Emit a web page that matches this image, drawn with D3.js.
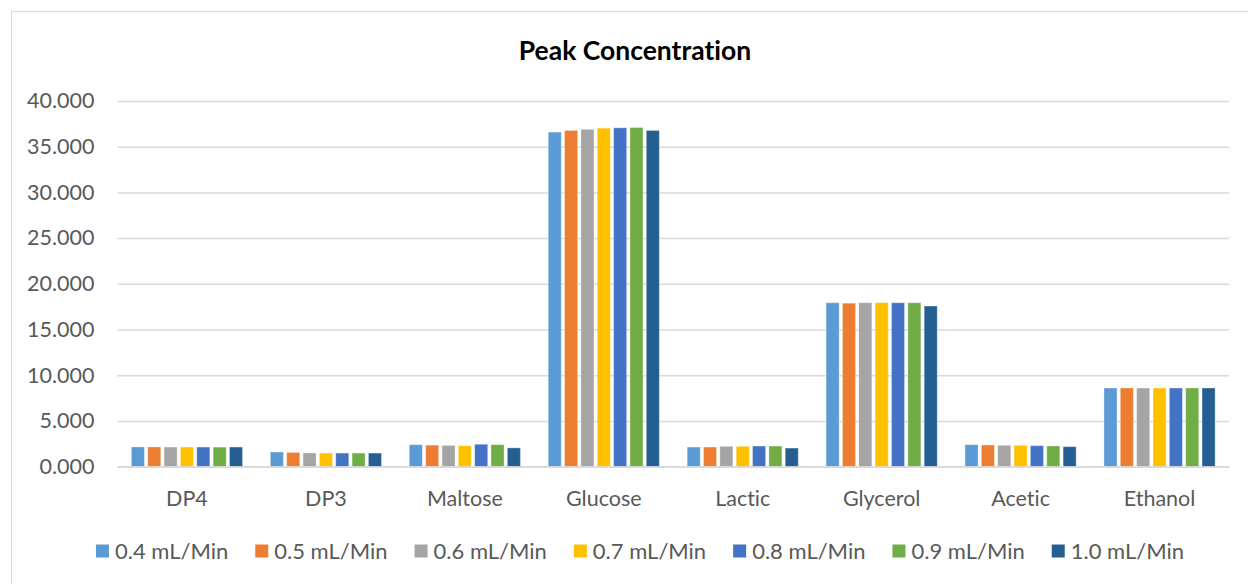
<!DOCTYPE html>
<html>
<head>
<meta charset="utf-8">
<script src="https://cdn.jsdelivr.net/npm/d3@7"></script>
<style>
  html, body { margin: 0; padding: 0; background: #fff; }
  svg { display: block; }
  text { font-family: Lato, "Liberation Sans", sans-serif; font-variant-ligatures: none; font-feature-settings: "liga" 0, "clig" 0; }
</style>
</head>
<body>
<svg id="chart" width="1248" height="584"></svg>
<script>
// Analytes on the x axis
const categories = ["DP4", "DP3", "Maltose", "Glucose", "Lactic", "Glycerol", "Acetic", "Ethanol"];

// Flow rates (one series each)
const seriesNames = ["0.4 mL/Min", "0.5 mL/Min", "0.6 mL/Min", "0.7 mL/Min", "0.8 mL/Min", "0.9 mL/Min", "1.0 mL/Min"];

// Peak concentration per analyte for each flow rate
const flow04 = [2.15, 1.60, 2.40, 36.60, 2.14, 17.93, 2.40, 8.60];
const flow05 = [2.15, 1.55, 2.35, 36.78, 2.14, 17.88, 2.36, 8.60];
const flow06 = [2.14, 1.50, 2.32, 36.90, 2.22, 17.93, 2.33, 8.60];
const flow07 = [2.14, 1.48, 2.28, 37.03, 2.22, 17.94, 2.33, 8.60];
const flow08 = [2.14, 1.48, 2.45, 37.07, 2.25, 17.93, 2.29, 8.60];
const flow09 = [2.13, 1.48, 2.40, 37.10, 2.25, 17.93, 2.26, 8.60];
const flow10 = [2.14, 1.48, 2.05, 36.78, 2.03, 17.57, 2.18, 8.60];
const seriesValues = [flow04, flow05, flow06, flow07, flow08, flow09, flow10];

// Y axis ticks
const yTicks = [0, 5, 10, 15, 20, 25, 30, 35, 40];

const colors = ["#5B9BD5", "#ED7D31", "#A5A5A5", "#FFC000", "#4472C4", "#70AD47", "#255E91"];

const svg = d3.select("#chart");
const plot = { left: 117.5, right: 1229, top: 101, bottom: 466.6 };

// Chart frame
svg.append("rect")
  .attr("x", 11.5).attr("y", 11.5)
  .attr("width", 1300).attr("height", 700)
  .attr("fill", "#fff").attr("stroke", "#d9d9d9").attr("stroke-width", 1);

// Title
svg.append("text")
  .attr("x", 635).attr("y", 60)
  .attr("text-anchor", "middle")
  .attr("font-weight", "bold")
  .attr("font-size", 26.5)
  .attr("fill", "#000")
  .text("Peak Concentration");

const x0 = d3.scaleBand().domain(categories).range([plot.left, plot.right]).paddingInner(0.2).paddingOuter(0.1);
const x1 = d3.scaleBand().domain(d3.range(seriesNames.length)).range([0, x0.bandwidth()]).paddingInner(0.2);
const y = d3.scaleLinear().domain([0, 40]).range([plot.bottom, plot.top]);

// Gridlines and tick labels
const yAxis = d3.axisLeft(y).tickValues(yTicks).tickSize(-(plot.right - plot.left)).tickPadding(23)
  .tickFormat(d3.format(".3f"));
const gy = svg.append("g").attr("transform", `translate(${plot.left},0)`).call(yAxis);
gy.select(".domain").remove();
gy.selectAll(".tick line").attr("stroke", "#d9d9d9").attr("stroke-width", 1.5);
gy.selectAll(".tick text")
  .attr("fill", "#595959").attr("font-size", 21.5)
  .attr("font-family", "Lato, 'Liberation Sans', sans-serif");

// Bars
const groups = svg.append("g").selectAll("g")
  .data(categories)
  .join("g")
  .attr("transform", d => `translate(${x0(d)},0)`);

groups.selectAll("rect")
  .data((c, ci) => seriesValues.map((vals, si) => ({ si, v: vals[ci] })))
  .join("rect")
  .attr("x", d => x1(d.si))
  .attr("y", d => y(d.v))
  .attr("width", x1.bandwidth())
  .attr("height", d => y(0) - y(d.v))
  .attr("fill", d => colors[d.si])
  .attr("stroke", "#ffffff").attr("stroke-opacity", 0.35).attr("stroke-width", 1);

// Category axis
const xAxis = d3.axisBottom(d3.scaleBand().domain(categories).range([plot.left, plot.right])).tickSize(0).tickPadding(24);
const gx = svg.append("g").attr("transform", `translate(0,${plot.bottom})`).call(xAxis);
gx.select(".domain").attr("stroke", "#d9d9d9").attr("stroke-width", 1.5);
gx.selectAll(".tick text")
  .attr("fill", "#595959").attr("font-size", 21.5)
  .attr("font-family", "Lato, 'Liberation Sans', sans-serif");

// Legend
const legend = svg.append("g");
const items = legend.selectAll("g").data(seriesNames).join("g");
items.append("rect")
  .attr("width", 13).attr("height", 13)
  .attr("y", -6.5)
  .attr("fill", (d, i) => colors[i]);
items.append("text")
  .attr("x", 19).attr("dy", "0.36em")
  .attr("font-size", 22).attr("fill", "#595959")
  .text(d => d);
let cursor = 0;
const gap = 27;
items.each(function () {
  const g = d3.select(this);
  const w = 19 + g.select("text").node().getComputedTextLength();
  g.attr("transform", `translate(${cursor},0)`);
  cursor += w + gap;
});
const totalW = cursor - gap;
legend.attr("transform", `translate(${640 - totalW / 2},551)`);
</script>
</body>
</html>
